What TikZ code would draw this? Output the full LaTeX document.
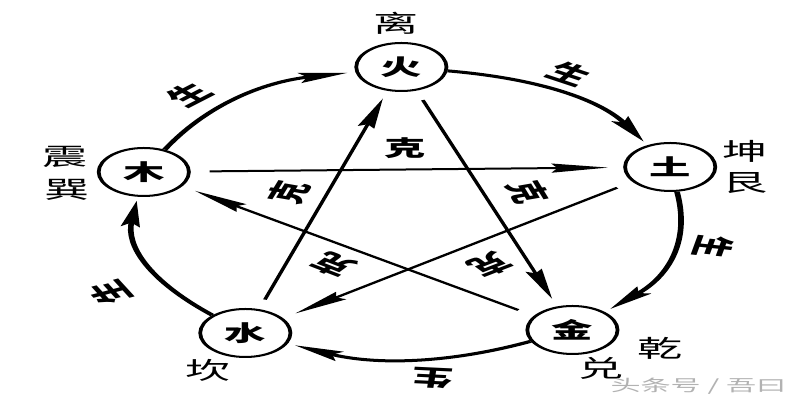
\documentclass[tikz,border=0pt]{standalone}
\usepackage{fontspec}
\newfontfamily\cjk{Noto Sans CJK SC}
\usetikzlibrary{arrows.meta}
\begin{document}
\begin{tikzpicture}[x=0.5pt,y=0.5pt,
  elem/.style={circle,draw,line width=1pt,minimum size=24pt,inner sep=0pt,font=\cjk\bfseries\fontsize{11}{11}\selectfont},
  gua/.style={font=\cjk\fontsize{12}{12}\selectfont,inner sep=0pt},
  lab/.style={font=\cjk\bfseries\fontsize{11}{11}\selectfont,inner sep=0pt},
  wmark/.style={font=\cjk\fontsize{8}{8}\selectfont,text=black!30,inner sep=0pt},
  sheng/.style={line width=1.5pt,-{Stealth[length=13pt,width=5pt,inset=2pt]},bend left=26,shorten >=2pt},
  ke/.style={line width=1pt,-{Stealth[length=15pt,width=4.5pt,inset=1.5pt]},shorten >=4pt,shorten <=5pt},
]
\useasboundingbox[fill=white] (0,0) rectangle (800,400);
\begin{scope}[transform canvas={shift={(407,185)},xscale=1.88}]
  % elements
  \node[elem] (huo) at (-3,148) {火};
  \node[elem] (mu) at (-140,43) {木};
  \node[elem] (tu) at (140,48) {土};
  \node[elem] (shui) at (-86,-118) {水};
  \node[elem] (jin) at (88,-115) {金};
  % trigrams
  \node[gua] (li) at (-6,192) {离};
  \node[gua] (zhen) at (-182,58) {震};
  \node[gua] (xun) at (-181,25) {巽};
  \node[gua] (kun) at (180,64) {坤};
  \node[gua] (gen) at (180,32) {艮};
  \node[gua] (kan) at (-106,-155) {坎};
  \node[gua] (qian) at (134.6,-133) {乾};
  \node[gua] (dui) at (103,-153) {兑};
  % generating cycle
  \draw[sheng] (mu) to (huo);
  \draw[sheng] (huo) to (tu);
  \draw[sheng] (tu) to (jin);
  \draw[sheng] (jin) to (shui);
  \draw[sheng] (shui) to (mu);
  \node[lab,rotate=44] (s1) at (-116,120) {生};
  \node[lab,rotate=-32] (s2) at (86.5,141) {生};
  \node[lab,rotate=-101] (s3) at (163,-32) {生};
  \node[lab,rotate=175] (s4) at (13.3,-163) {生};
  \node[lab,rotate=116] (s5) at (-158,-77) {生};
  % overcoming cycle
  \draw[ke] (mu) -- (tu);
  \draw[ke] (tu) -- (shui);
  \draw[ke] (shui) -- (huo);
  \draw[ke] (huo) -- (jin);
  \draw[ke] (jin) -- (mu);
  \node[lab] (k1) at (-1,67) {克};
  \node[lab,rotate=72] (k2) at (-63,23) {克};
  \node[lab,rotate=-72] (k3) at (64,23) {克};
  \node[lab,rotate=144] (k4) at (-39,-50) {克};
  \node[lab,rotate=-144] (k5) at (44,-50) {克};
  % watermark
  \node[wmark] (wm) at (155,-171) {头条号 / 吾曰};
\end{scope}
\end{tikzpicture}
\end{document}
